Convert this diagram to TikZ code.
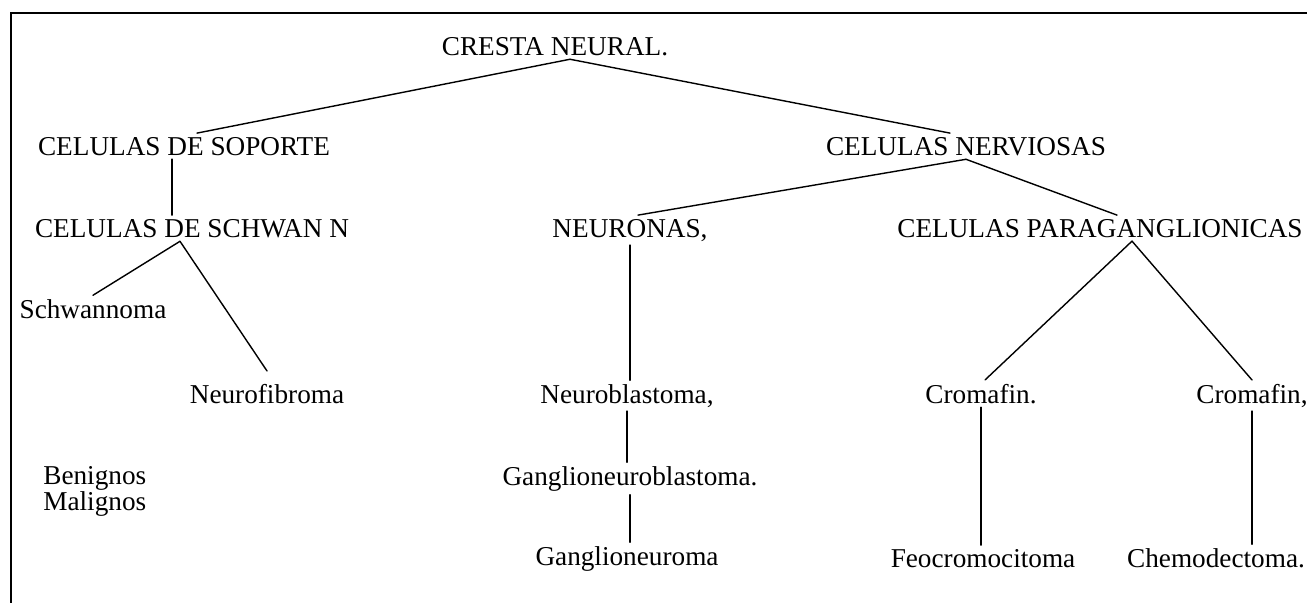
\documentclass[tikz,border=0pt]{standalone}
\usepackage{fontspec}
\setmainfont{Liberation Serif}
\usetikzlibrary{positioning,calc}

\tikzset{
  lbl/.style={font=\fontsize{15.5}{18}\selectfont, inner sep=2pt, anchor=base},
  rama/.style={line width=0.8pt, line cap=round},
  marco/.style={line width=1.1pt}
}

\begin{document}
\begin{tikzpicture}[x=0.02cm, y=-0.02cm]
\useasboundingbox (0,0) rectangle (1307,603);
% Frame (top and left only)
\draw[marco] (1307,13) -- (11,13) -- (11,603);
% Level 0 and 1
\node[lbl] (crest) at (555,55) {CRESTA NEURAL.};
\node[lbl] (soporte) at (184,155) {CELULAS DE SOPORTE};
\node[lbl] (nerviosas) at (966,155) {CELULAS NERVIOSAS};
% Level 2
\node[lbl] (schwann) at (192,237) {CELULAS DE SCHWAN N};
\node[lbl] (neuronas) at (630,237) {NEURONAS,};
\node[lbl] (paragang) at (1100,237) {CELULAS PARAGANGLIONICAS};
% Tumours
\node[lbl] (schwannoma) at (93,318) {Schwannoma};
\node[lbl] (neurofib) at (267,403) {Neurofibroma};
\node[lbl] (neuroblast) at (627,403) {Neuroblastoma,};
\node[lbl] (gangnb) at (630,485) {Ganglioneuroblastoma.};
\node[lbl] (gangneuroma) at (627,565) {Ganglioneuroma};
\node[lbl] (cromA) at (981,403) {Cromafin.};
\node[lbl] (cromB) at (1252,403) {Cromafin,};
\node[lbl] (feocromo) at (983,567) {Feocromocitoma};
\node[lbl] (chemodec) at (1216,567) {Chemodectoma.};
% Legend
\node[lbl, inner sep=0pt, anchor=base west] (benignos) at (43,484) {Benignos};
\node[lbl, inner sep=0pt, anchor=base west] (malignos) at (43,510) {Malignos};
% Branches
\draw[rama] ([xshift=0.3cm]crest.south) -- ([xshift=0.26cm]soporte.north);
\draw[rama] ([xshift=0.3cm]crest.south) -- ([xshift=-0.32cm]nerviosas.north);
\draw[rama] ([xshift=-0.24cm]soporte.south) -- ([xshift=-0.24cm]soporte.south |- schwann.north);
\draw[rama] ([xshift=-0.24cm]schwann.south) -- (schwannoma.north);
\draw[rama] ([xshift=-0.24cm]schwann.south) -- ([yshift=0.18cm]neurofib.north);
\draw[rama] (nerviosas.south) -- ([xshift=0.16cm]neuronas.north);
\draw[rama] (nerviosas.south) -- ([xshift=0.34cm]paragang.north);
\draw[rama] ([xshift=0.64cm]paragang.south) -- ([xshift=0.08cm]cromA.north);
\draw[rama] ([xshift=0.64cm]paragang.south) -- (cromB.north);
% Vertical chains
\foreach \a/\b in {neuronas/neuroblast, neuroblast/gangnb, gangnb/gangneuroma, cromA/feocromo, cromB/chemodec} {
  \draw[rama] (\a.south) -- (\a.south |- \b.north);
}
\end{tikzpicture}
\end{document}
